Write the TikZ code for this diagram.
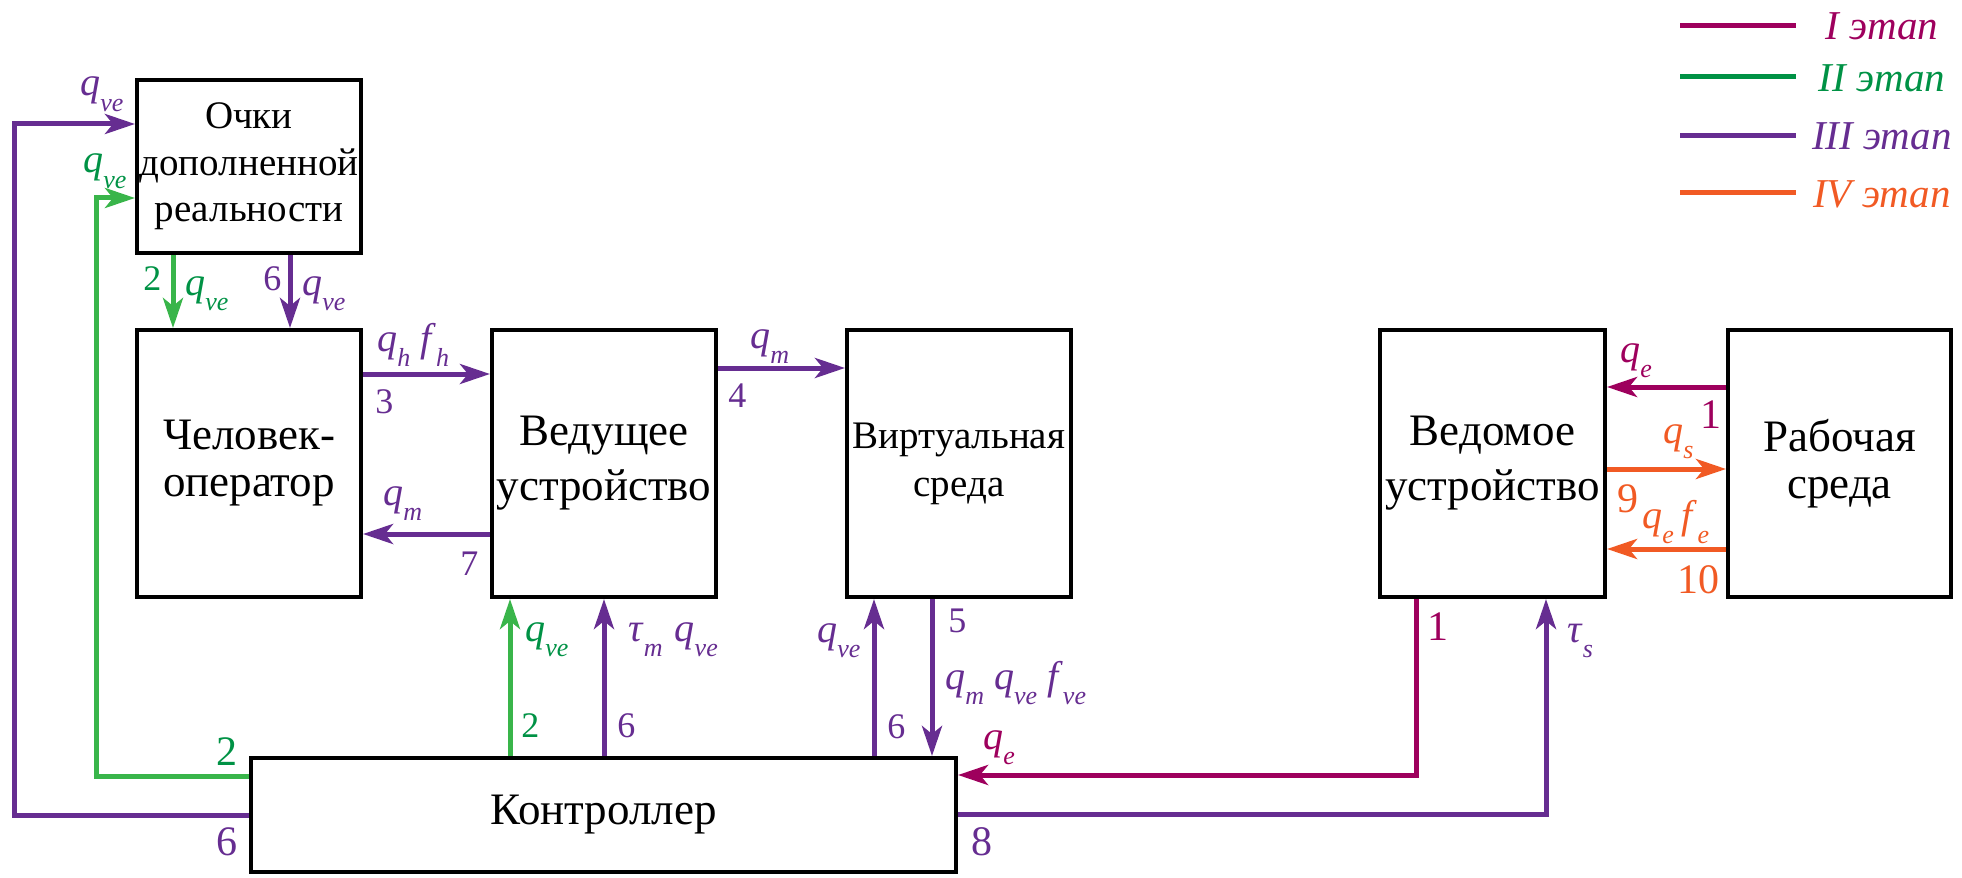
\documentclass[tikz,border=0pt]{standalone}
\usepackage{fontspec}
\setmainfont{Liberation Serif}
\usetikzlibrary{arrows.meta,calc}

\definecolor{stageI}{HTML}{9E005D}
\definecolor{stageII}{HTML}{009245}
\definecolor{stageIIline}{HTML}{39B54A}
\definecolor{stageIII}{HTML}{662D91}
\definecolor{stageIV}{HTML}{F15A24}

% italic symbol with a lowered italic index
\newcommand\sym[2]{\textit{#1}\raisebox{-0.38em}{\fontsize{13}{13}\selectfont\textit{#2}}}

\tikzset{
  block/.style={draw=black, line width=2pt, fill=white, inner sep=0pt, align=center},
  smallbox/.style={block, minimum width=112pt, minimum height=133.5pt},
  link/.style={line width=2.5pt},
  arr/.style={link, -{Stealth[length=15pt,width=10pt,inset=4pt]}},
  lbl/.style={inner sep=0pt, anchor=base west, font=\fontsize{20}{20}\selectfont},
  num/.style={inner sep=0pt, anchor=base west, font=\fontsize{18}{18}\selectfont},
  numL/.style={inner sep=0pt, anchor=base west, font=\fontsize{21}{21}\selectfont},
  leg/.style={inner sep=0pt, anchor=base, font=\fontsize{20.5}{20.5}\selectfont\itshape},
  s1/.style={color=stageI},
  s2/.style={color=stageII},
  s2line/.style={color=stageIIline},
  s3/.style={color=stageIII},
  s4/.style={color=stageIV},
}

\begin{document}
\begin{tikzpicture}[x=0.5pt,y=-0.5pt]
\useasboundingbox (0,0) rectangle (1962,877);

% ---------- blocks ----------
\node[block, minimum width=112pt, minimum height=86.5pt,
      font=\fontsize{19.5}{23.3}\selectfont] (glasses) at (249,166.5)
      {Очки\\дополненной\\реальности};
\node[smallbox, font=\fontsize{22.5}{23.5}\selectfont] (human) at (249,463.5) {Человек-\\оператор};
\node[smallbox, font=\fontsize{22.5}{27.5}\selectfont] (master) at (604,463.5) {Ведущее\\устройство};
\node[smallbox, font=\fontsize{19.5}{24}\selectfont] (virtual) at (959,463.5) {Виртуальная\\среда};
\node[smallbox, minimum width=112.5pt, font=\fontsize{22.5}{27.5}\selectfont] (slave) at (1492.5,463.5) {Ведомое\\устройство};
\node[smallbox, minimum width=111.5pt, font=\fontsize{22.5}{23.5}\selectfont] (env) at (1839.5,463.5) {Рабочая\\среда};
\node[block, minimum width=352.5pt, minimum height=57pt,
      font=\fontsize{22.5}{27}\selectfont] (ctrl) at (603.5,815) {Контроллер};

% corners of the two feedback loops on the left
\coordinate (loopG) at (96,198);
\coordinate (loopP) at (14,124);

% ---------- stage I ----------
\draw[arr, s1] ([shift={(0,-76.5)}]env.west) -- ([shift={(0,-76.5)}]slave.east);
\draw[arr, s1] ([shift={(-76.5,0)}]slave.south) |- ([shift={(0,-40)}]ctrl.east);

% ---------- stage II ----------
\draw[arr, s2line] ([shift={(0,-39)}]ctrl.west) -| (loopG) -- ([shift={(0,31.5)}]glasses.west);
\draw[arr, s2line] ([shift={(-76,0)}]glasses.south) -- ([shift={(-76,0)}]human.north);
\draw[arr, s2line] ($(master.south |- ctrl.north)+(-94,0)$) -- ([shift={(-94,0)}]master.south);

% ---------- stage III ----------
\draw[arr, s3] (ctrl.west) -| (loopP) -- ([shift={(0,-42.5)}]glasses.west);
\draw[arr, s3] ([shift={(41,0)}]glasses.south) -- ([shift={(41,0)}]human.north);
\draw[arr, s3] ([shift={(0,-89.5)}]human.east) -- ([shift={(0,-89.5)}]master.west);
\draw[arr, s3] ([shift={(0,70.5)}]master.west) -- ([shift={(0,70.5)}]human.east);
\draw[arr, s3] ([shift={(0,-95.5)}]master.east) -- ([shift={(0,-95.5)}]virtual.west);
\draw[arr, s3] (master.south |- ctrl.north) -- (master.south);
\draw[arr, s3] ($(virtual.south |- ctrl.north)+(-85,0)$) -- ([shift={(-85,0)}]virtual.south);
\draw[arr, s3] ([shift={(-27,0)}]virtual.south) -- ($(virtual.south |- ctrl.north)+(-27,0)$);
\draw[arr, s3] ([shift={(0,-1)}]ctrl.east) -| ([shift={(53.5,0)}]slave.south);

% ---------- stage IV ----------
\draw[arr, s4] ([shift={(0,5.5)}]slave.east) -- ([shift={(0,5.5)}]env.west);
\draw[arr, s4] ([shift={(0,85.5)}]env.west) -- ([shift={(0,85.5)}]slave.east);

% ---------- signal labels ----------
\node[lbl, s3] (tqP) at (80,96) {\sym{q}{ve}};
\node[lbl, s2] (tqG) at (83,173) {\sym{q}{ve}};
\node[num, s2] (n2a) at (143,290) {2};
\node[lbl, s2] (tqGd) at (185,295) {\sym{q}{ve}};
\node[num, s3] (n6a) at (263,290) {6};
\node[lbl, s3] (tqPd) at (302,295) {\sym{q}{ve}};

\node[lbl, s3] (tqh) at (377,351) {\sym{q}{h}\hspace{0.25em}\sym{f}{h}};
\node[num, s3] (n3) at (375,413) {3};
\node[lbl, s3] (tqm7) at (383,505) {\sym{q}{m}};
\node[num, s3] (n7) at (460,575) {7};
\node[lbl, s3] (tqm4) at (750,348) {\sym{q}{m}};
\node[num, s3] (n4) at (728,407) {4};

\node[lbl, s2] (tqGm) at (525,641) {\sym{q}{ve}};
\node[num, s2] (n2b) at (521,737) {2};
\node[lbl, s3] (ttau) at (628,641) {\sym{τ}{m}\hspace{0.3em}\sym{q}{ve}};
\node[num, s3] (n6b) at (617,737) {6};

\node[lbl, s3] (tqv) at (817,642) {\sym{q}{ve}};
\node[num, s3] (n6c) at (887,738) {6};
\node[num, s3] (n5) at (948,632) {5};
\node[lbl, s3] (tqmv) at (945,689) {\sym{q}{m}\hspace{0.25em}\sym{q}{ve}\hspace{0.25em}\sym{f}{ve}};
\node[lbl, s1] (tqe) at (983,749) {\sym{q}{e}};
\node[numL, s3] (n8) at (971,855) {8};

\node[numL, s2] (n2c) at (216,765) {2};
\node[numL, s3] (n6d) at (216,855) {6};

\node[numL, s1] (n1a) at (1427,640) {1};
\node[lbl, s3] (ttaus) at (1567,642) {\sym{τ}{s}};

\node[lbl, s1] (tqe2) at (1620,362) {\sym{q}{e}};
\node[numL, s1] (n1b) at (1700,428) {1};
\node[lbl, s4] (tqs) at (1663,443) {\sym{q}{s}};
\node[numL, s4] (n9) at (1617,512) {9};
\node[lbl, s4] (tqef) at (1642,528) {\sym{q}{e}\hspace{0.2em}\sym{f}{e}};
\node[numL, s4] (n10) at (1677,593) {10};

% ---------- legend ----------
\node[leg, s1] (legI)   at (1882,40)  {I этап};
\node[leg, s2] (legII)  at (1882,92)  {II этап};
\node[leg, s3] (legIII) at (1882,150) {III этап};
\node[leg, s4] (legIV)  at (1882,207) {IV этап};
\draw[link, s1] (1680,26)  -- (1796,26);
\draw[link, s2] (1680,77)  -- (1796,77);
\draw[link, s3] (1680,136) -- (1796,136);
\draw[link, s4] (1680,193) -- (1796,193);
\end{tikzpicture}
\end{document}
